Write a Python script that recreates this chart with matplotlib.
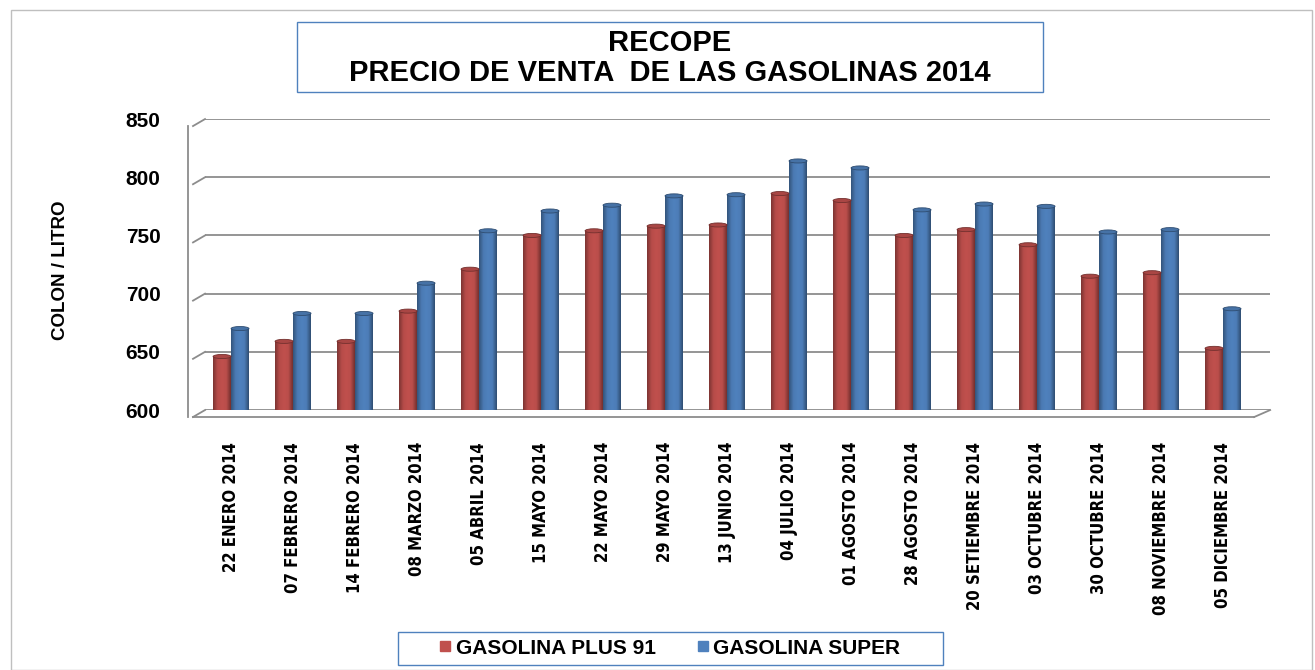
import numpy as np
import matplotlib
matplotlib.use('Agg')
import matplotlib.pyplot as plt
from matplotlib.patches import Ellipse, Rectangle
from matplotlib.lines import Line2D
from matplotlib.colors import LinearSegmentedColormap

fechas = ['22 ENERO 2014', '07 FEBRERO 2014', '14 FEBRERO 2014', '08 MARZO 2014',
          '05 ABRIL 2014', '15 MAYO 2014', '22 MAYO 2014', '29 MAYO 2014',
          '13 JUNIO 2014', '04 JULIO 2014', '01 AGOSTO 2014', '28 AGOSTO 2014',
          '20 SETIEMBRE 2014', '03 OCTUBRE 2014', '30 OCTUBRE 2014',
          '08 NOVIEMBRE 2014', '05 DICIEMBRE 2014']
plus91 = [646, 659, 659, 685, 721, 750, 754, 758, 759, 786, 780, 750, 755, 742, 715, 718, 653]
super_ = [670, 683, 683, 709, 754, 771, 776, 784, 785, 814, 808, 772, 777, 775, 753, 755, 687]
yticks = [600, 650, 700, 750, 800, 850]

rojo = '#C0504D'
azul = '#4F81BD'
arial = ['Liberation Sans', 'DejaVu Sans']

fig = plt.figure(figsize=(13.15, 6.70), dpi=100)
fig.patches.append(Rectangle((0.008, 0.0), 0.99, 0.985, transform=fig.transFigure,
                             fill=False, edgecolor='#BFBFBF', lw=1.0))
ax = fig.add_axes([0.1559, 0.388, 0.81, 0.4343])

# spine position first, it resets the ticks
for s in ['top', 'right', 'bottom']:
    ax.spines[s].set_visible(False)
ax.spines['left'].set_position(('outward', 12))
ax.spines['left'].set_color('#8C8C8C')
ax.spines['left'].set_linewidth(1.3)

x = np.arange(len(fechas))
w = 0.29


def shade(color):
    c = np.array(matplotlib.colors.to_rgb(color))
    return LinearSegmentedColormap.from_list('s', [c * 0.65, c * 0.95, c * 1.0, c * 0.97, c * 0.6])


grad = np.linspace(0, 1, 64).reshape(1, -1)
for vals, off, col in [(plus91, -w / 2, rojo), (super_, w / 2, azul)]:
    bars = ax.bar(x + off, np.array(vals) - 600, w, bottom=600, color=col, zorder=3)
    cm = shade(col)
    for b in bars:
        x0, y0 = b.get_x(), b.get_y()
        bw, bh = b.get_width(), b.get_height()
        ax.imshow(grad, cmap=cm, extent=(x0, x0 + bw, y0 - 3, y0 + bh), aspect='auto', zorder=4)
        c = np.array(matplotlib.colors.to_rgb(col))
        ax.add_patch(Ellipse((x0 + bw / 2, y0 + bh), bw, 3.5, facecolor=c * 0.88,
                             edgecolor=c * 0.6, lw=0.6, zorder=5))

ax.set_xlim(-0.42, 16.76)
ax.set_ylim(600, 850)
ax.spines['left'].set_bounds(594, 844)
ax.set_yticks(yticks)
ax.set_yticklabels([str(v) for v in yticks], fontsize=15, fontweight='bold', family=arial)
ax.tick_params(axis='y', length=0, pad=20)
ax.set_xticks(x)
ax.set_xticklabels(fechas, rotation=90, fontsize=12, fontweight='bold',
                   family='DejaVu Sans', fontstretch='condensed')
ax.tick_params(axis='x', length=0, pad=23)
ax.grid(axis='y', color='#8C8C8C', lw=1.3, zorder=0)

# 3d stubs and floor
dx = 12 / 62
for v in yticks:
    ax.plot([-0.42 - dx, -0.42], [v - 6, v], color='#8C8C8C', lw=1.3, clip_on=False, zorder=1)
ax.plot([-0.42 - dx, 16.76 - 16 / 62], [594, 594], color='#8C8C8C', lw=1.3, clip_on=False, zorder=1)
ax.plot([16.76 - 16 / 62, 16.76], [594, 600], color='#8C8C8C', lw=1.3, clip_on=False, zorder=1)

fig.text(61 / 1315, 1 - 270 / 670, 'COLON / LITRO', rotation=90, ha='center', va='center',
         fontsize=13.5, fontweight='bold', family=arial)

fig.text(670 / 1315, 1 - 58 / 670, 'RECOPE\nPRECIO DE VENTA  DE LAS GASOLINAS 2014', ha='center', va='center',
         fontsize=21, fontweight='bold', family=arial, linespacing=1.05)
fig.patches.append(Rectangle((297 / 1315, 1 - 92 / 670), 746 / 1315, 70 / 670, transform=fig.transFigure,
                             fill=False, edgecolor='#4F81BD', lw=1.0))

h1 = Line2D([], [], ls='', marker='s', markersize=7, color=rojo)
h2 = Line2D([], [], ls='', marker='s', markersize=7, color=azul)
fig.legend([h1, h2], ['GASOLINA PLUS 91', 'GASOLINA SUPER'], loc='center',
           bbox_to_anchor=(670 / 1315, 1 - 648 / 670), ncol=2, frameon=False,
           prop={'family': arial, 'weight': 'bold', 'size': 15},
           handlelength=0.5, handletextpad=0.25, columnspacing=2.0)
fig.patches.append(Rectangle((398 / 1315, 1 - 665 / 670), 545 / 1315, 33 / 670, transform=fig.transFigure,
                             fill=False, edgecolor='#4F81BD', lw=1.0))

fig.savefig('out.png', dpi=100)
